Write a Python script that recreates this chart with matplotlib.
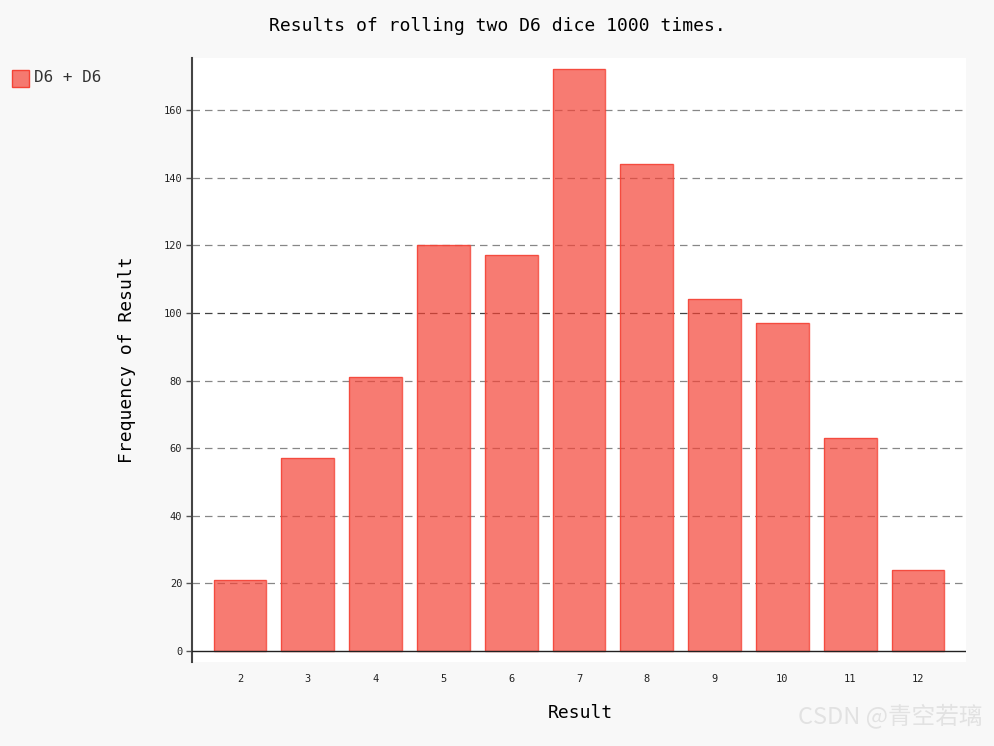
import matplotlib
matplotlib.use("Agg")
import matplotlib.pyplot as plt
from matplotlib.patches import Rectangle

results = [2, 3, 4, 5, 6, 7, 8, 9, 10, 11, 12]
frequencies = [21, 57, 81, 120, 117, 172, 144, 104, 97, 63, 24]
y_ticks = [0, 20, 40, 60, 80, 100, 120, 140, 160]
title = "Results of rolling two D6 dice 1000 times."
x_label = "Result"
y_label = "Frequency of Result"
series_name = "D6 + D6"

mono = "DejaVu Sans Mono"
fig = plt.figure(figsize=(9.94, 7.46), dpi=100, facecolor="#f8f8f8")
ax = fig.add_axes([192/994, 1 - 662/746, (966-192)/994, (662-58)/746])
ax.set_facecolor("white")

ax.bar(results, frequencies, width=0.78, color="#F44336", alpha=0.7,
       edgecolor="none", zorder=3)
ax.bar(results, frequencies, width=0.78, facecolor="none",
       edgecolor="#F44336", linewidth=1.0, alpha=0.85, zorder=4)

ax.set_xlim(1.292, 12.708)
ax.set_ylim(-3.25, 175.4)
ax.set_yticks(y_ticks)
ax.set_xticks(results)
ax.set_xticklabels([str(r) for r in results], fontfamily=mono, fontsize=7.5)
ax.set_yticklabels([str(v) for v in y_ticks], fontfamily=mono, fontsize=7.5)
ax.tick_params(axis="x", length=0, pad=8.5, colors="#222222")
ax.tick_params(axis="y", length=4, width=1, color="#555555", pad=3, labelcolor="#222222")

for v in y_ticks:
    if v == 0:
        ax.axhline(0, color="#222222", linewidth=1.0, zorder=5)
    elif v == 100:
        ax.axhline(v, color="#222222", linewidth=0.9, linestyle=(0, (6, 4)), alpha=0.85, zorder=2)
    else:
        ax.axhline(v, color="#555555", linewidth=0.9, linestyle=(0, (6, 4)), alpha=0.7, zorder=2)

for s in ["top", "right", "bottom"]:
    ax.spines[s].set_visible(False)
ax.spines["left"].set_color("#444444")
ax.spines["left"].set_linewidth(1.5)

fig.text(0.5, 1 - 26/746, title, ha="center", va="center", fontfamily=mono, fontsize=13, color="black")
fig.text(580/994, 1 - 713/746, x_label, ha="center", va="center", fontfamily=mono, fontsize=13, color="black")
fig.text(127/994, 1 - 360/746, y_label, ha="center", va="center", rotation=90, fontfamily=mono, fontsize=13, color="black")

# legend
fig.patches.append(Rectangle((12/994, 1 - 87/746), 17/994, 17/746, transform=fig.transFigure,
                             facecolor="#F44336", alpha=0.7, edgecolor="none"))
fig.patches.append(Rectangle((12/994, 1 - 87/746), 17/994, 17/746, transform=fig.transFigure,
                             facecolor="none", edgecolor="#F44336", linewidth=1.0))
fig.text(34/994, 1 - 78/746, series_name, ha="left", va="center", fontfamily=mono, fontsize=11.5, color="#333333")

# watermark
fig.text(982/994, 1 - 716/746, "CSDN @青空若璃", ha="right", va="center",
         fontfamily=["Noto Sans CJK SC", "DejaVu Sans"], fontsize=17, color="#e2e2e2")

fig.savefig("out.png", dpi=100, facecolor=fig.get_facecolor())
